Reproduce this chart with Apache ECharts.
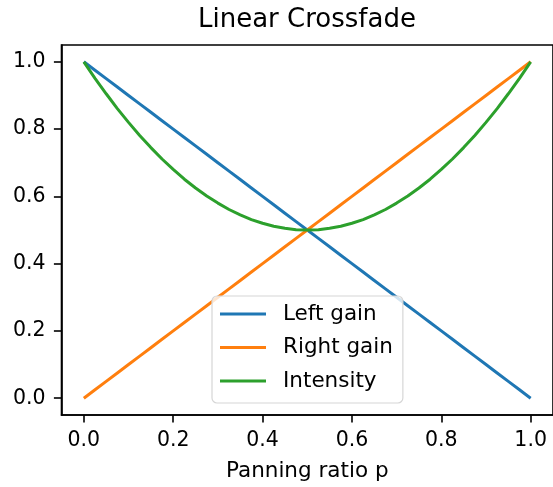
<!DOCTYPE html>
<html>
<head>
<meta charset="utf-8">
<script src="https://cdn.jsdelivr.net/npm/echarts@6/dist/echarts.min.js"></script>
<style>html,body{margin:0;padding:0;background:#fff;}#c{width:553px;height:487px;}</style>
</head>
<body>
<div id="c"></div>
<script>
// Panning ratio samples
const p = [0, 0.025, 0.05, 0.075, 0.1, 0.125, 0.15, 0.175, 0.2, 0.225, 0.25, 0.275, 0.3, 0.325, 0.35, 0.375, 0.4, 0.425, 0.45, 0.475, 0.5,
           0.525, 0.55, 0.575, 0.6, 0.625, 0.65, 0.675, 0.7, 0.725, 0.75, 0.775, 0.8, 0.825, 0.85, 0.875, 0.9, 0.925, 0.95, 0.975, 1.0];
const leftGain = [1.0, 0.975, 0.95, 0.925, 0.9, 0.875, 0.85, 0.825, 0.8, 0.775, 0.75, 0.725, 0.7, 0.675, 0.65, 0.625, 0.6, 0.575, 0.55, 0.525, 0.5,
                  0.475, 0.45, 0.425, 0.4, 0.375, 0.35, 0.325, 0.3, 0.275, 0.25, 0.225, 0.2, 0.175, 0.15, 0.125, 0.1, 0.075, 0.05, 0.025, 0.0];
const rightGain = [0.0, 0.025, 0.05, 0.075, 0.1, 0.125, 0.15, 0.175, 0.2, 0.225, 0.25, 0.275, 0.3, 0.325, 0.35, 0.375, 0.4, 0.425, 0.45, 0.475, 0.5,
                   0.525, 0.55, 0.575, 0.6, 0.625, 0.65, 0.675, 0.7, 0.725, 0.75, 0.775, 0.8, 0.825, 0.85, 0.875, 0.9, 0.925, 0.95, 0.975, 1.0];
const intensity = [1.0, 0.951, 0.905, 0.861, 0.82, 0.781, 0.745, 0.711, 0.68, 0.651, 0.625, 0.601, 0.58, 0.561, 0.545, 0.531, 0.52, 0.511, 0.505, 0.501, 0.5,
                   0.501, 0.505, 0.511, 0.52, 0.531, 0.545, 0.561, 0.58, 0.601, 0.625, 0.651, 0.68, 0.711, 0.745, 0.781, 0.82, 0.861, 0.905, 0.951, 1.0];
const xTicks = [0, 0.2, 0.4, 0.6, 0.8, 1.0];
const yTicks = [0, 0.2, 0.4, 0.6, 0.8, 1.0];
const seriesNames = ['Left gain', 'Right gain', 'Intensity'];
const colors = ['#1f77b4', '#ff7f0e', '#2ca02c'];

const font = 'DejaVu Sans';
const chart = echarts.init(document.getElementById('c'), null, {renderer: 'canvas'});
const pairs = arr => p.map((x, i) => [x, arr[i]]);
const lineSeries = (name, arr, color) => ({
  name: name, type: 'line', data: pairs(arr), showSymbol: false, symbol: 'none',
  lineStyle: {color: color, width: 3}, itemStyle: {color: color}, animation: false
});
const axisCommon = {
  axisLine: {show: true, onZero: false, lineStyle: {color: '#000', width: 1.6}},
  splitLine: {show: false}
};
chart.setOption({
  animation: false,
  title: {
    text: 'Linear Crossfade', left: 198, top: 7, padding: 0,
    textStyle: {fontFamily: font, fontSize: 26, fontWeight: 'normal', color: '#000'}
  },
  grid: {left: 61.5, top: 45, width: 495.3, height: 370.3, show: true, borderColor: '#000', borderWidth: 1.6, containLabel: false},
  legend: {
    orient: 'vertical', left: 212, top: 296,
    data: seriesNames,
    icon: 'rect', itemWidth: 46, itemHeight: 3, itemGap: 11.5,
    padding: [7, 10, 11, 8],
    backgroundColor: 'rgba(255,255,255,0.8)', borderColor: '#d6d6d6', borderWidth: 1.2, borderRadius: 5,
    textStyle: {fontFamily: font, fontSize: 21.5, color: '#000', lineHeight: 22, padding: [0, 0, 0, 12]}
  },
  xAxis: Object.assign({
    type: 'value', min: -0.05, max: 1.05,
    name: 'Panning ratio p', nameLocation: 'middle', nameGap: 45,
    nameTextStyle: {fontFamily: font, fontSize: 21.5, color: '#000'},
    axisTick: {show: true, customValues: xTicks, length: 7.6, lineStyle: {color: '#000', width: 1.6}},
    axisLabel: {customValues: xTicks, margin: 15, fontFamily: font, fontSize: 20.5, color: '#000', formatter: v => v.toFixed(1)}
  }, axisCommon),
  yAxis: Object.assign({
    type: 'value', min: -0.05, max: 1.05,
    axisTick: {show: true, customValues: yTicks, length: 7.6, lineStyle: {color: '#000', width: 1.6}},
    axisLabel: {customValues: yTicks, margin: 16, fontFamily: font, fontSize: 20.5, color: '#000', formatter: v => v.toFixed(1)}
  }, axisCommon),
  series: [
    lineSeries(seriesNames[0], leftGain, colors[0]),
    lineSeries(seriesNames[1], rightGain, colors[1]),
    lineSeries(seriesNames[2], intensity, colors[2])
  ]
});
</script>
</body>
</html>
